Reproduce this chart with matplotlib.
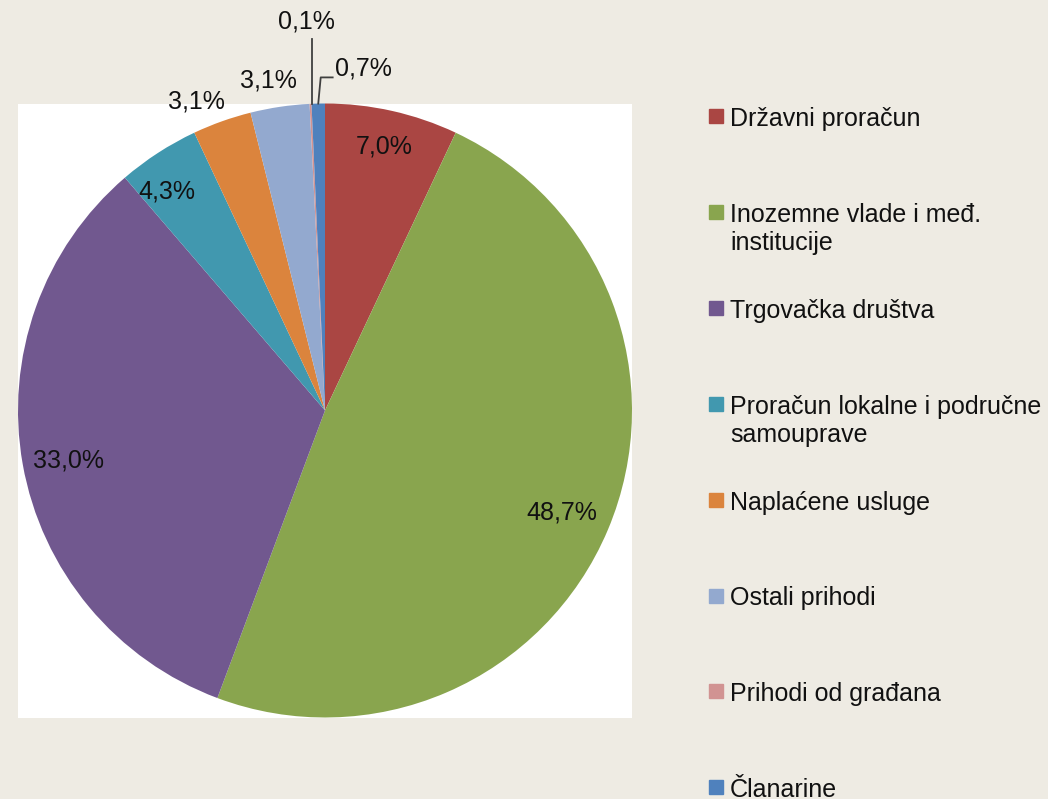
import numpy as np
import matplotlib.pyplot as plt

plt.rcParams['font.family'] = ['Liberation Sans', 'DejaVu Sans']

categories = ['Državni proračun', 'Inozemne vlade i međ.\ninstitucije', 'Trgovačka društva',
              'Proračun lokalne i područne\nsamouprave', 'Naplaćene usluge', 'Ostali prihodi',
              'Prihodi od građana', 'Članarine']
shares = [7.0, 48.7, 33.0, 4.3, 3.1, 3.1, 0.1, 0.7]
pct_labels = ['7,0%', '48,7%', '33,0%', '4,3%', '3,1%', '3,1%', '0,1%', '0,7%']

colors = ['#AA4643', '#89A54E', '#71588F', '#4198AF', '#DB843D', '#93A9CF', '#D19392', '#4F81BD']
# label distance from centre and angular nudge (degrees) per slice
label_r = [0.88, 0.84, 0.85, 0.88, 1.09, 1.09, 1.27, 1.12]
label_dt = [0, -0.5, 1, 3, 2.9, 1.3, 0, -7.7]

bg = '#EEEBE3'
txt = '#111111'
fig = plt.figure(figsize=(10.48, 7.99), dpi=100, facecolor=bg)
ax = fig.add_axes([18 / 1048, 81 / 799, 614 / 1048, 615 / 799])
ax.set_facecolor('white')

wedges, _ = ax.pie(shares, colors=colors, startangle=90, counterclock=False,
                   radius=1, frame=True, wedgeprops=dict(linewidth=0))
ax.set_xlim(-1, 1)
ax.set_ylim(-1, 1)
ax.set_aspect('equal')
ax.set_xticks([])
ax.set_yticks([])
for s in ax.spines.values():
    s.set_visible(False)

mids = []
for w, lab, r, dt in zip(wedges, pct_labels, label_r, label_dt):
    mid = np.deg2rad((w.theta1 + w.theta2) / 2)
    mids.append(mid)
    a = mid + np.deg2rad(dt)
    ax.text(r * np.cos(a), r * np.sin(a), lab, ha='center', va='center',
            fontsize=18, color=txt, clip_on=False)

# leader lines for the two tiny slices
lc = '#404040'
m = mids[6]
x0, y0 = np.cos(m), np.sin(m)
ax.plot([x0 + 0.005, x0 + 0.005], [y0, 1.21], color=lc, lw=1.3, clip_on=False)
m = mids[7]
x0, y0 = np.cos(m), np.sin(m)
ax.plot([x0, x0 + 0.008, 0.025], [y0, 1.085, 1.085], color=lc, lw=1.3, clip_on=False)

# legend, first lines evenly spaced down the right side
top = 1 - 116 / 799
step = 95.9 / 799
line_h = 28 / 799
for i, (name, c) in enumerate(zip(categories, colors)):
    y = top - i * step
    fig.patches.append(plt.Rectangle((709 / 1048, y - 7 / 799), 14 / 1048, 14 / 799,
                                     transform=fig.transFigure, color=c))
    for j, line in enumerate(name.split('\n')):
        fig.text(730 / 1048, y - 10 / 799 - j * line_h, line, ha='left', va='baseline',
                 fontsize=18, color=txt)

fig.savefig('out.png', dpi=100, facecolor=bg)
